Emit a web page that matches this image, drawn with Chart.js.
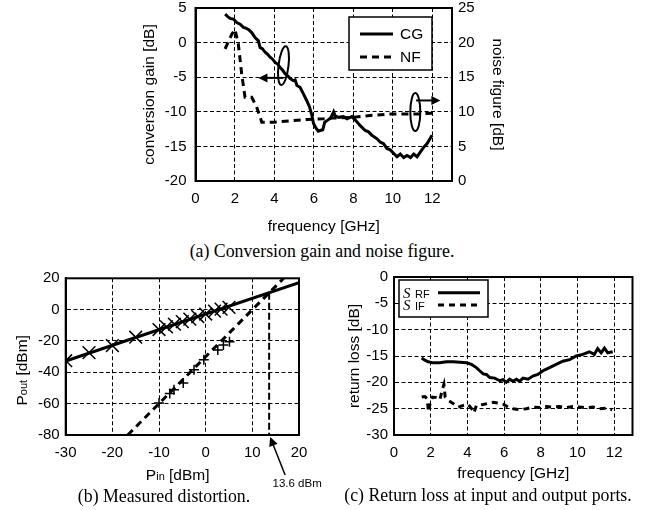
<!DOCTYPE html>
<html>
<head>
<meta charset="utf-8">
<script src="https://cdn.jsdelivr.net/npm/chart.js@4.4.0/dist/chart.umd.min.js"></script>
<style>
  body { margin: 0; background: #fff; width: 650px; height: 510px; position: relative; overflow: hidden; }
  canvas { position: absolute; }
  .cap { position: absolute; font-family: 'Liberation Serif', 'Times New Roman', serif; font-size: 17.8px;
         line-height: 20px; text-align: center; white-space: nowrap; color: #000; }
</style>
</head>
<body>
<canvas id="cgnf" width="440" height="250" style="left:100px;top:-10px"></canvas>
<canvas id="dist" width="330" height="228" style="left:0px;top:262px"></canvas>
<canvas id="rl" width="320" height="228" style="left:330px;top:262px"></canvas>
<div class="cap" style="left:122px;width:400px;top:241px">(a) Conversion gain and noise figure.</div>
<div class="cap" style="left:4px;width:320px;top:486px">(b) Measured distortion.</div>
<div class="cap" style="left:328px;width:320px;top:485px">(c) Return loss at input and output ports.</div>
<script>
// (a) conversion gain / noise figure vs frequency
const cgFreq = [1.50, 1.62, 1.75, 1.92, 2.09, 2.26, 2.43, 2.55, 2.68, 2.85, 3.02, 3.19, 3.27, 3.40, 3.53,
  3.66, 3.78, 3.91, 4.04, 4.17, 4.29, 4.42, 4.54, 4.67, 4.80, 4.96, 5.05, 5.14, 5.30, 5.47, 5.64, 5.78,
  5.90, 5.98, 6.12, 6.22, 6.32, 6.45, 6.55, 6.70, 6.85, 7.00, 7.08, 7.25, 7.50, 7.68, 7.93, 8.10, 8.35,
  8.60, 8.77, 8.94, 9.20, 9.37, 9.53, 9.70, 9.87, 10.04, 10.21, 10.38, 10.55, 10.72, 10.90, 11.06, 11.23,
  11.40, 11.57, 11.74, 11.99]
const cgGain = [4.1, 3.8, 3.5, 3.4, 2.9, 2.65, 2.2, 2.1, 1.9, 1.45, 0.73, 0.26, -0.7, -0.9, -1.4,
  -1.7, -2.1, -2.4, -2.9, -3.1, -3.6, -4.0, -4.5, -4.8, -5.2, -5.5, -5.4, -6.2, -6.45, -7.4, -8.4, -9.3,
  -10.5, -11.7, -12.4, -12.8, -12.7, -12.6, -11.5, -11.2, -10.9, -10.0, -10.6, -10.8, -10.7, -11.0, -10.7, -11.2, -12.0,
  -12.7, -12.9, -13.4, -13.9, -14.4, -14.6, -15.3, -15.5, -16.0, -16.5, -16.1, -16.6, -16.3, -16.6, -16.1, -16.5,
  -15.8, -15.1, -14.6, -13.4]
const nfFreq = [1.50, 1.84, 2.00, 2.17, 2.34, 2.51, 2.85, 3.10, 3.36, 3.95, 4.80, 5.64, 6.49, 7.00, 8.00, 9.00, 10.00, 11.40, 12.00]
const nfValue = [19.1, 21.2, 21.9, 19.8, 15.5, 12.1, 12.1, 10.7, 8.5, 8.5, 8.7, 8.9, 9.0, 9.1, 9.2, 9.5, 9.7, 9.7, 9.8]
const freqTicks = [0, 2, 4, 6, 8, 10, 12]
const cgTicks = [-20, -15, -10, -5, 0, 5]
const nfTicks = [0, 5, 10, 15, 20, 25]

// (b) distortion
const pinFund = [-30, -25, -20, -15, -10, -8.4, -6.7, -5, -3.4, -1.7, 0, 1.9, 3.3, 5]
const poutFund = [-32.6, -27.4, -22.9, -17.6, -12.7, -11.0, -9.3, -7.6, -6.0, -4.4, -2.8, -1.0, 0.3, 1.4]
const pinIm3 = [-10, -7.7, -6.8, -4.8, -2.5, -0.4, 2.6, 3.8, 5.1]
const poutIm3 = [-59.6, -53.5, -51.2, -46.8, -38.4, -32.0, -25.7, -22.6, -20.5]
const fitFundPin = [-30, 20]
const fitFundPout = [-32.8, 17.2]
const fitIm3Pin = [-16.7, 16.7]
const fitIm3Pout = [-80, 20]
const iip3 = 13.6
const pinTicks = [-30, -20, -10, 0, 10, 20]
const poutTicks = [-80, -60, -40, -20, 0, 20]

// (c) return loss
const srfFreq = [1.51, 1.68, 1.86, 2.14, 2.50, 2.86, 3.22, 3.59, 3.95, 4.22, 4.49, 4.67, 4.86, 5.04, 5.22, 5.49,
  5.76, 5.94, 6.12, 6.30, 6.49, 6.67, 6.85, 7.03, 7.30, 7.57, 7.84, 8.12, 8.48, 8.84, 9.20, 9.57, 9.93,
  10.29, 10.65, 10.92, 11.10, 11.29, 11.47, 11.65, 11.92]
const srfValue = [-15.4, -15.8, -16.1, -16.3, -16.3, -16.1, -16.1, -16.2, -16.3, -16.6, -17.2, -17.8, -18.4, -18.5, -19.1, -19.2,
  -19.7, -19.5, -20.0, -19.4, -19.8, -19.4, -19.8, -19.2, -19.4, -18.8, -18.5, -17.8, -17.2, -16.6, -16.0, -15.7, -15.0,
  -14.7, -14.2, -14.7, -13.6, -14.4, -13.5, -14.4, -14.2]
const sifFreq = [1.51, 1.68, 1.81, 1.88, 1.96, 2.10, 2.32, 2.50, 2.64, 2.72, 2.79, 2.95, 3.22, 3.50, 3.77, 4.04,
  4.28, 4.35, 4.49, 4.86, 5.13, 5.40, 5.76, 5.98, 6.21, 6.49, 6.85, 7.21, 7.57, 7.93, 8.30, 8.66, 9.02,
  9.38, 9.74, 10.10, 10.47, 10.83, 11.20, 11.56, 11.89]
const sifValue = [-22.8, -22.7, -23.1, -25.6, -24.1, -22.8, -22.9, -23.3, -21.3, -20.4, -22.8, -23.4, -24.0, -24.7, -24.4, -24.2,
  -25.2, -25.8, -24.4, -24.2, -24.0, -23.8, -24.0, -24.2, -24.7, -25.0, -25.2, -25.0, -24.7, -24.8, -24.6, -24.7, -24.6,
  -24.8, -24.6, -24.7, -24.8, -24.7, -25.0, -24.9, -25.2]
const rlTicks = [-30, -25, -20, -15, -10, -5, 0]

const sans = "'Liberation Sans', Arial, sans-serif"
const serif = "'Liberation Serif', 'Times New Roman', serif"
Chart.defaults.font.family = sans
Chart.defaults.font.size = 15
Chart.defaults.color = '#000'

const pts = (xs, ys) => xs.map((x, i) => ({ x: x, y: ys[i] }))
const useTicks = values => scale => { scale.ticks = values.map(v => ({ value: v })) }
const grid = { color: '#000', lineWidth: 1, drawTicks: false }
const border = { color: '#000', width: 2, dash: [4, 2.5] }
const titleFont = { size: 15.5 }

const frame = {
  id: 'frame',
  afterDraw(chart) {
    const { ctx, chartArea: a } = chart
    ctx.save()
    ctx.lineWidth = 2
    ctx.strokeStyle = '#000'
    ctx.setLineDash([])
    ctx.strokeRect(a.left, a.top, a.right - a.left, a.bottom - a.top)
    ctx.restore()
  }
}

function arrow(ctx, x1, y1, x2, y2) {
  const ang = Math.atan2(y2 - y1, x2 - x1)
  const len = 9, half = 4.5
  ctx.beginPath()
  ctx.moveTo(x1, y1)
  ctx.lineTo(x2 - Math.cos(ang) * len * 0.8, y2 - Math.sin(ang) * len * 0.8)
  ctx.stroke()
  ctx.beginPath()
  ctx.moveTo(x2, y2)
  ctx.lineTo(x2 - Math.cos(ang) * len + Math.sin(ang) * half, y2 - Math.sin(ang) * len - Math.cos(ang) * half)
  ctx.lineTo(x2 - Math.cos(ang) * len - Math.sin(ang) * half, y2 - Math.sin(ang) * len + Math.cos(ang) * half)
  ctx.closePath()
  ctx.fill()
}

// text with smaller subscript-like runs, parts = [[text, size], ...], centred on (0, baseline)
function drawRuns(ctx, parts, baseline) {
  let total = 0
  parts.forEach(p => { ctx.font = p[1] + 'px ' + sans; total += ctx.measureText(p[0]).width })
  let x = -total / 2
  ctx.textAlign = 'left'
  ctx.textBaseline = 'alphabetic'
  parts.forEach(p => {
    ctx.font = p[1] + 'px ' + sans
    ctx.fillText(p[0], x, baseline)
    x += ctx.measureText(p[0]).width
  })
}

const cgAnnot = {
  id: 'cgAnnot',
  afterDatasetsDraw(chart) {
    const { ctx, chartArea: a, scales: { x, y } } = chart
    ctx.save()
    ctx.strokeStyle = '#000'
    ctx.fillStyle = '#000'
    ctx.lineWidth = 2
    ctx.setLineDash([])
    // left ellipse + arrow -> left axis
    ctx.beginPath()
    ctx.ellipse(x.getPixelForValue(4.46), y.getPixelForValue(-3.33), 5, 19.5, 0.12, 0, Math.PI * 2)
    ctx.stroke()
    arrow(ctx, x.getPixelForValue(4.46), y.getPixelForValue(-5.1), x.getPixelForValue(3.19), y.getPixelForValue(-5.1))
    // right ellipse + arrow -> right axis
    ctx.beginPath()
    ctx.ellipse(x.getPixelForValue(11.14), y.getPixelForValue(-10.04), 5, 19, 0, 0, Math.PI * 2)
    ctx.stroke()
    arrow(ctx, x.getPixelForValue(11.18), y.getPixelForValue(-8.36), x.getPixelForValue(12.41), y.getPixelForValue(-8.36))
    // legend box
    const bx = a.right - 103, by = a.top + 9, bw = 83, bh = 53
    ctx.fillStyle = '#fff'
    ctx.fillRect(bx, by, bw, bh)
    ctx.lineWidth = 1.5
    ctx.strokeRect(bx, by, bw, bh)
    const rows = [['CG', []], ['NF', [7, 5]]]
    rows.forEach((r, i) => {
      const ry = by + 17 + i * 23
      ctx.lineWidth = 3
      ctx.setLineDash(r[1])
      ctx.beginPath()
      ctx.moveTo(bx + 11, ry)
      ctx.lineTo(bx + 44, ry)
      ctx.stroke()
      ctx.setLineDash([])
      ctx.fillStyle = '#000'
      ctx.font = '15.5px ' + sans
      ctx.textAlign = 'left'
      ctx.textBaseline = 'middle'
      ctx.fillText(r[0], bx + 51, ry + 1)
    })
    ctx.restore()
  }
}

new Chart(document.getElementById('cgnf'), {
  type: 'line',
  data: {
    datasets: [{
      label: 'CG',
      data: pts(cgFreq, cgGain),
      yAxisID: 'y',
      borderColor: '#000',
      borderWidth: 3,
      pointRadius: 0,
      tension: 0
    }, {
      label: 'NF',
      data: pts(nfFreq, nfValue),
      yAxisID: 'y1',
      borderColor: '#000',
      borderWidth: 3,
      borderDash: [7, 5],
      pointRadius: 0,
      tension: 0
    }]
  },
  options: {
    responsive: false,
    animation: false,
    events: [],
    layout: { padding: { top: 17, left: 0, right: 0, bottom: 0 } },
    plugins: { legend: { display: false }, tooltip: { enabled: false } },
    scales: {
      x: {
        type: 'linear', min: 0, max: 13,
        afterBuildTicks: useTicks(freqTicks),
        afterFit: s => { s.height = 59 },
        grid: grid, border: border,
        ticks: { padding: 9 },
        title: { display: true, text: 'frequency [GHz]', font: titleFont, padding: { top: 0, bottom: 4 } }
      },
      y: {
        position: 'left', min: -20, max: 5,
        afterBuildTicks: useTicks(cgTicks),
        afterFit: s => { s.width = 95.5 },
        grid: grid, border: border,
        ticks: { padding: 9 },
        title: { display: true, text: 'conversion gain [dB]', font: titleFont, padding: { top: 40, bottom: 0 } }
      },
      y1: {
        position: 'right', min: 0, max: 25,
        afterBuildTicks: useTicks(nfTicks),
        afterFit: s => { s.width = 88 },
        grid: { display: false, drawTicks: false },
        border: { color: '#000', width: 2 },
        ticks: { padding: 6 },
        title: { display: true, text: 'noise figure [dB]', font: titleFont, padding: { top: 33, bottom: 0 } }
      }
    }
  },
  plugins: [cgAnnot, frame]
})

const distAnnot = {
  id: 'distAnnot',
  afterDatasetsDraw(chart) {
    const { ctx, chartArea: a, scales: { x, y } } = chart
    const slope = (fitFundPout[1] - fitFundPout[0]) / (fitFundPin[1] - fitFundPin[0])
    const yCross = fitFundPout[0] + (iip3 - fitFundPin[0]) * slope
    const px = x.getPixelForValue(iip3)
    ctx.save()
    ctx.strokeStyle = '#000'
    ctx.fillStyle = '#000'
    ctx.lineWidth = 2
    ctx.setLineDash([7, 3])
    ctx.beginPath()
    ctx.moveTo(px, y.getPixelForValue(yCross))
    ctx.lineTo(px, a.bottom)
    ctx.stroke()
    ctx.restore()
  },
  afterDraw(chart) {
    const { ctx, chartArea: a, scales: { x } } = chart
    const tipX = x.getPixelForValue(iip3) + 1, tipY = a.bottom + 2
    ctx.save()
    ctx.strokeStyle = '#000'
    ctx.fillStyle = '#000'
    ctx.lineWidth = 1.5
    arrow(ctx, tipX + 15, tipY + 38, tipX, tipY)
    ctx.font = '11.5px ' + sans
    ctx.textAlign = 'center'
    ctx.textBaseline = 'middle'
    ctx.fillText(iip3.toFixed(1) + ' dBm', tipX + 27, tipY + 47)
    // axis titles with small "in" / "out"
    ctx.save()
    ctx.translate(a.left + 112, a.bottom + 39)
    drawRuns(ctx, [['P', 15.5], ['in', 11], [' [dBm]', 15.5]], 5.5)
    ctx.restore()
    ctx.save()
    ctx.translate(21.5, a.top + 92)
    ctx.rotate(-Math.PI / 2)
    drawRuns(ctx, [['P', 15.5], ['out', 11], [' [dBm]', 15.5]], 5.5)
    ctx.restore()
    ctx.restore()
  }
}

new Chart(document.getElementById('dist'), {
  type: 'line',
  data: {
    datasets: [{
      label: 'fundamental fit',
      data: pts(fitFundPin, fitFundPout),
      borderColor: '#000', borderWidth: 3, pointRadius: 0, tension: 0
    }, {
      label: 'IM3 fit',
      data: pts(fitIm3Pin, fitIm3Pout),
      borderColor: '#000', borderWidth: 3, borderDash: [7, 5], pointRadius: 0, tension: 0
    }, {
      label: 'fundamental',
      data: pts(pinFund, poutFund),
      showLine: false,
      pointStyle: 'crossRot', pointRadius: 9, pointBorderWidth: 1.5, pointBorderColor: '#000'
    }, {
      label: 'IM3',
      data: pts(pinIm3, poutIm3),
      showLine: false,
      pointStyle: 'cross', pointRadius: 5, pointBorderWidth: 1.5, pointBorderColor: '#000'
    }]
  },
  options: {
    responsive: false,
    animation: false,
    events: [],
    layout: { padding: { top: 16.3, left: 0, right: 31, bottom: 0 } },
    plugins: { legend: { display: false }, tooltip: { enabled: false } },
    scales: {
      x: {
        type: 'linear', min: -30, max: 20,
        afterBuildTicks: useTicks(pinTicks),
        afterFit: s => { s.height = 55 },
        grid: grid, border: border,
        ticks: { padding: 9.3 }
      },
      y: {
        min: -80, max: 20,
        afterBuildTicks: useTicks(poutTicks),
        afterFit: s => { s.width = 65.7 },
        grid: grid, border: border,
        ticks: { padding: 6 }
      }
    }
  },
  plugins: [distAnnot, frame]
})

const rlLegend = {
  id: 'rlLegend',
  afterDatasetsDraw(chart) {
    const { ctx, chartArea: a } = chart
    const bx = a.left + 5, by = a.top + 3, bw = 89, bh = 37
    ctx.save()
    ctx.fillStyle = '#fff'
    ctx.fillRect(bx, by, bw, bh)
    ctx.strokeStyle = '#000'
    ctx.lineWidth = 1.5
    ctx.setLineDash([])
    ctx.strokeRect(bx, by, bw, bh)
    const rows = [['RF', []], ['IF', [6, 5]]]
    rows.forEach((r, i) => {
      const ry = by + 12.7 + i * 12.3
      ctx.fillStyle = '#000'
      ctx.textAlign = 'left'
      ctx.textBaseline = 'alphabetic'
      ctx.font = 'italic 15px ' + serif
      ctx.fillText('S', bx + 4, ry + 5)
      ctx.font = '11px ' + sans
      ctx.fillText(r[0], bx + 16, ry + 5)
      ctx.lineWidth = 3
      ctx.setLineDash(r[1])
      ctx.beginPath()
      ctx.moveTo(bx + 39, ry)
      ctx.lineTo(bx + 81, ry)
      ctx.stroke()
      ctx.setLineDash([])
    })
    ctx.restore()
  }
}

new Chart(document.getElementById('rl'), {
  type: 'line',
  data: {
    datasets: [{
      label: 'S RF',
      data: pts(srfFreq, srfValue),
      borderColor: '#000', borderWidth: 3, pointRadius: 0, tension: 0
    }, {
      label: 'S IF',
      data: pts(sifFreq, sifValue),
      borderColor: '#000', borderWidth: 3, borderDash: [6, 5], pointRadius: 0, tension: 0
    }]
  },
  options: {
    responsive: false,
    animation: false,
    events: [],
    layout: { padding: { top: 13, left: 0, right: 17.5, bottom: 0 } },
    plugins: { legend: { display: false }, tooltip: { enabled: false } },
    scales: {
      x: {
        type: 'linear', min: 0, max: 13,
        afterBuildTicks: useTicks(freqTicks),
        afterFit: s => { s.height = 55 },
        grid: grid, border: border,
        ticks: { padding: 9.3 },
        title: { display: true, text: 'frequency [GHz]', font: titleFont, padding: { top: 0, bottom: 6.7 } }
      },
      y: {
        min: -30, max: 0,
        afterBuildTicks: useTicks(rlTicks),
        afterFit: s => { s.width = 64 },
        grid: grid, border: border,
        ticks: { padding: 6 },
        title: { display: true, text: 'return loss [dB]', font: titleFont, padding: { top: 15.7, bottom: 0 } }
      }
    }
  },
  plugins: [rlLegend, frame]
})
</script>
</body>
</html>
